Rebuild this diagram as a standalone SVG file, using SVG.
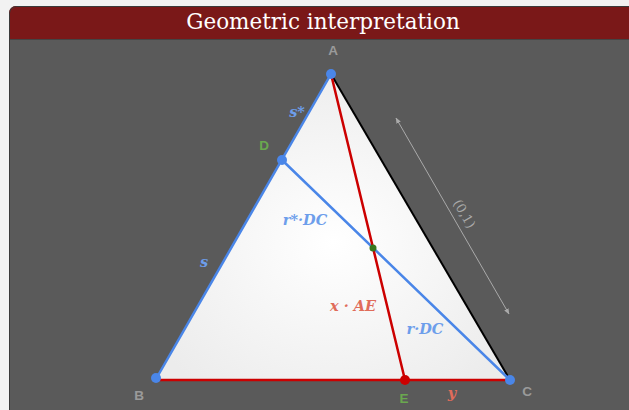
<svg xmlns="http://www.w3.org/2000/svg" width="629" height="410" viewBox="0 0 629 410">
<defs>
<radialGradient id="tri" cx="0.5" cy="0.55" r="0.6">
<stop offset="0" stop-color="#ffffff"/>
<stop offset="1" stop-color="#ececec"/>
</radialGradient>
<marker id="ah" viewBox="0 0 10 10" refX="9" refY="5" markerWidth="6" markerHeight="6" orient="auto-start-reverse">
<path d="M0,1 L10,5 L0,9 z" fill="#aaaaaa"/>
</marker>
<clipPath id="pc"><rect x="9" y="6" width="700" height="500" rx="7"/></clipPath>
</defs>
<style>
.pt{font-family:"Liberation Sans",Arial,sans-serif;font-weight:bold;font-size:13.5px;text-anchor:middle}
.gray{fill:#9a9a9a}
.green{fill:#6aa84f}
.math{font-family:"DejaVu Serif","Liberation Serif",serif;font-style:italic;font-weight:bold;font-size:14.5px;text-anchor:middle}
.blue{fill:#6d9eeb}
.sal{fill:#e06c5a}
.bl{stroke:#4a86e8;stroke-width:2.5;fill:none;stroke-linecap:round}
.rd{stroke:#cc0000;stroke-width:2.5;fill:none;stroke-linecap:round}
</style>
<rect width="629" height="410" fill="#f2f2f2"/>
<g id="panel" clip-path="url(#pc)">
<rect x="9" y="6" width="700" height="500" fill="#5a5a5a"/>
<rect x="9" y="6" width="700" height="33" fill="#7a1818"/>
<line x1="9" y1="39.5" x2="709" y2="39.5" stroke="#444" stroke-width="1"/>
<rect x="9.5" y="6.5" width="700" height="500" rx="7" fill="none" stroke="#3a3a3a" stroke-width="1"/>
<text x="323" y="29" font-family="DejaVu Serif,serif" font-size="21.5" fill="#ffffff" text-anchor="middle">Geometric interpretation</text>
</g>
<g id="triangle">
<polygon points="331,74 156,379 510,380" fill="url(#tri)"/>
<line x1="331" y1="74" x2="510" y2="380" stroke="#000" stroke-width="2"/>
</g>
<g id="connectors">
<line class="rd" x1="156" y1="380" x2="510" y2="380"/>
<line class="bl" x1="331" y1="74" x2="156" y2="379"/>
<line class="bl" x1="282" y1="160" x2="510" y2="380"/>
<line class="rd" x1="331" y1="74" x2="405" y2="380"/>
<line x1="396" y1="118" x2="509" y2="314" stroke="#aaaaaa" stroke-width="1" marker-start="url(#ah)" marker-end="url(#ah)"/>
</g>
<g id="A"><circle cx="331" cy="74" r="5" fill="#4a86e8"/><text class="pt gray" x="333" y="55">A</text></g>
<g id="D"><circle cx="282" cy="160" r="5" fill="#4a86e8"/><text class="pt green" x="264" y="150">D</text></g>
<g id="B"><circle cx="156" cy="378" r="5" fill="#4a86e8"/><text class="pt gray" x="139" y="400">B</text></g>
<g id="C"><circle cx="510" cy="380" r="5" fill="#4a86e8"/><text class="pt gray" x="527" y="396">C</text></g>
<g id="E"><circle cx="405" cy="380" r="5" fill="#cc0000"/><text class="pt green" x="404" y="403">E</text></g>
<g id="X"><circle cx="373" cy="248" r="3.5" fill="#38761d"/></g>
<g id="labels">
<text class="math blue" x="297" y="117" font-size="17">s*</text>
<text class="math blue" x="204" y="267" font-size="17">s</text>
<text class="math blue" x="305" y="225">r*·DC</text>
<text class="math sal" x="353" y="311">x · AE</text>
<text class="math blue" x="425" y="334">r·DC</text>
<text class="math sal" x="452" y="398">y</text>
<text x="464" y="214" font-family="DejaVu Serif,serif" font-size="13" fill="#aaaaaa" text-anchor="middle" transform="rotate(60 464 214)" dy="4">(0,1)</text>
</g>
</svg>
